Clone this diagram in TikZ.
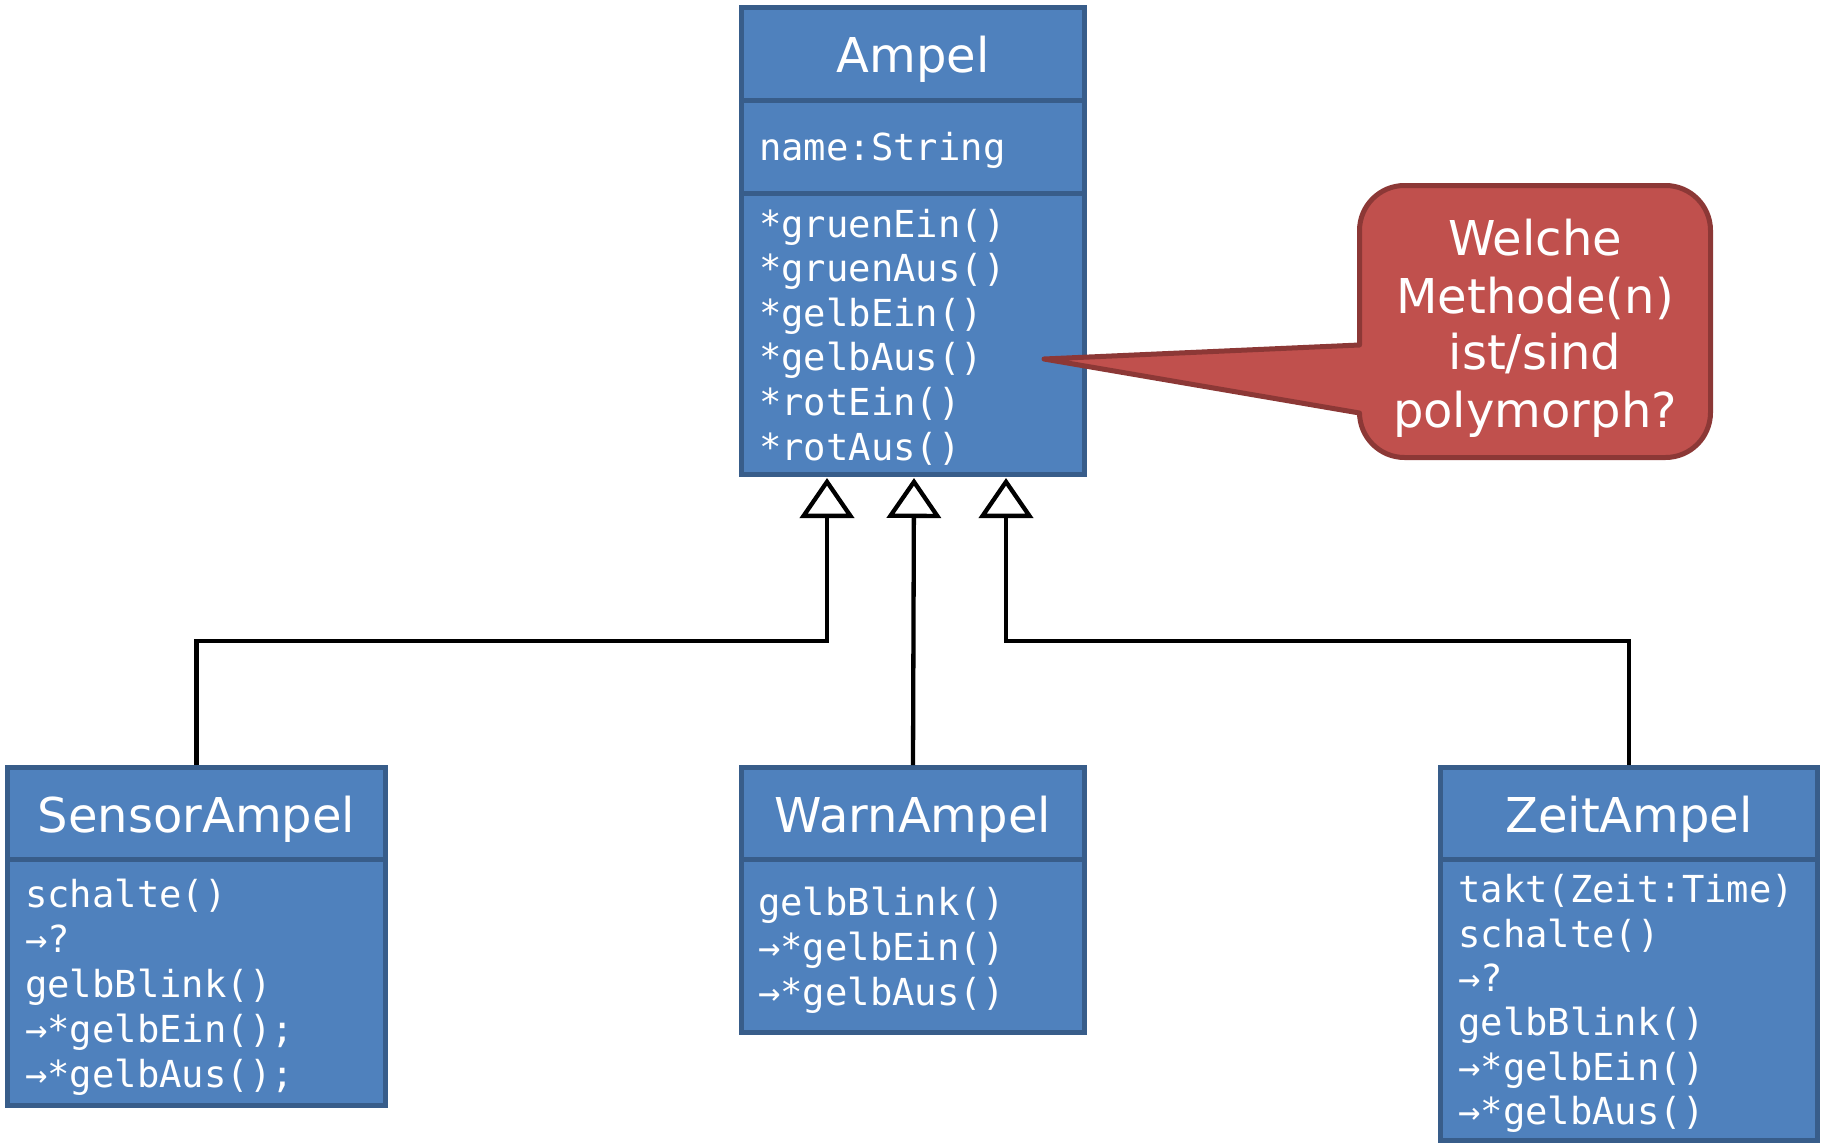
\documentclass[tikz,border=0pt]{standalone}
\usepackage{fontspec}
\setmainfont{DejaVu Sans}
\newfontfamily\monofont{DejaVu Sans Mono}
\usetikzlibrary{arrows.meta}
\definecolor{boxfill}{HTML}{4F81BD}
\definecolor{boxline}{HTML}{385D8A}
\definecolor{callfill}{HTML}{C0504D}
\definecolor{callline}{HTML}{8C3836}
\tikzset{
  umlbox/.style={draw=boxline, fill=boxfill, line width=5pt, inner sep=0pt, anchor=north west},
  divider/.style={draw=boxline, line width=5pt},
  title/.style={text=white, inner sep=0pt, anchor=base, font=\fontsize{48}{58}\selectfont},
  member/.style={text=white, inner sep=0pt, anchor=base west, font=\monofont\fontsize{37.2}{44}\selectfont},
  callbox/.style={draw=callline, fill=callfill, line width=5pt, rounded corners=45pt, inner sep=0pt},
  calltext/.style={text=white, inner sep=0pt, anchor=base, font=\fontsize{48}{57}\selectfont},
  inh/.style={draw=black, line width=4.3pt, -{Triangle[open, length=40pt, width=54pt]}}
}
\begin{document}
\begin{tikzpicture}[x=1pt, y=-1pt]
\useasboundingbox (0,0) rectangle (1825,1143);

% Ampel
\node[umlbox, minimum width=343pt, minimum height=467pt] (ampel) at (739,5) {};
\draw[divider] (739,100) -- (1087,100);
\draw[divider] (739,193) -- (1087,193);
\node[title] (ampelT) at (913,72) {Ampel};
\node[member] (aA) at (759,160) {name:String};
\node[member] (aM1) at (759,237) {*gruenEin()};
\node[member] (aM2) at (759,281.6) {*gruenAus()};
\node[member] (aM3) at (759,326.2) {*gelbEin()};
\node[member] (aM4) at (759,370.8) {*gelbAus()};
\node[member] (aM5) at (759,415.4) {*rotEin()};
\node[member] (aM6) at (759,460) {*rotAus()};

% SensorAmpel
\node[umlbox, minimum width=378pt, minimum height=338pt] (sensor) at (5,765) {};
\draw[divider] (5,859) -- (388,859);
\node[title] (sensorT) at (196.5,832) {SensorAmpel};
\node[member] (s1) at (25,907) {schalte()};
\node[member] (s2) at (25,952) {→?};
\node[member] (s3) at (25,997) {gelbBlink()};
\node[member] (s4) at (25,1042) {→*gelbEin();};
\node[member] (s5) at (25,1087) {→*gelbAus();};

% WarnAmpel
\node[umlbox, minimum width=343pt, minimum height=265pt] (warn) at (739,765) {};
\draw[divider] (739,859) -- (1087,859);
\node[title] (warnT) at (913,832) {WarnAmpel};
\node[member] (w1) at (758,915) {gelbBlink()};
\node[member] (w2) at (758,960) {→*gelbEin()};
\node[member] (w3) at (758,1005) {→*gelbAus()};

% ZeitAmpel
\node[umlbox, minimum width=377pt, minimum height=373pt] (zeit) at (1438,765) {};
\draw[divider] (1438,859) -- (1820,859);
\node[title] (zeitT) at (1629,832) {ZeitAmpel};
\node[member] (z1) at (1458,902) {takt(Zeit:Time)};
\node[member] (z2) at (1458,947) {schalte()};
\node[member] (z3) at (1458,991) {→?};
\node[member] (z4) at (1458,1035) {gelbBlink()};
\node[member] (z5) at (1458,1080) {→*gelbEin()};
\node[member] (z6) at (1458,1124) {→*gelbAus()};

% inheritance connectors
\coordinate (tipL) at (827,478);
\coordinate (tipM) at (914,478);
\coordinate (tipR) at (1006,478);
\draw[inh] (sensor.north) -- (sensor.north |- 0,641) -| (tipL);
\draw[inh] (warn.north) -- (tipM);
\draw[inh] (zeit.north) -- (zeit.north |- 0,641) -| (tipR);

% callout
\node[callbox, minimum width=351pt, minimum height=272pt] (q) at (1535,321.5) {};
\coordinate (qtip) at (1044,359);
\fill[callfill] (qtip) -- (1363,344.5) -- (1363,413.5) -- cycle;
\draw[callline, line width=5pt, line join=round, line cap=round] (1359.5,345) -- (qtip) -- (1359.5,413);
\node[calltext] (q1) at (1535,255) {Welche};
\node[calltext] (q2) at (1535,313) {Methode(n)};
\node[calltext] (q3) at (1535,369) {ist/sind};
\node[calltext] (q4) at (1535,427) {polymorph?};
\end{tikzpicture}
\end{document}
